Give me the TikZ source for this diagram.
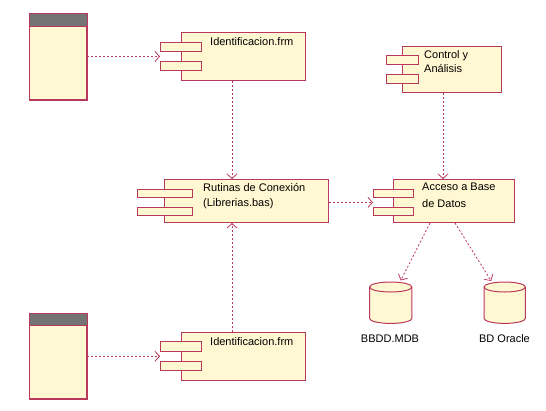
\documentclass[tikz,border=0pt]{standalone}
\usepackage{fontspec}
\setmainfont{Liberation Sans}
\usetikzlibrary{arrows.meta,calc}
\definecolor{umlborder}{HTML}{B8395C}
\definecolor{umlfill}{HTML}{FFF8D2}
\definecolor{umlhead}{HTML}{747474}
\tikzset{
  body/.style={draw=umlborder,fill=umlfill,line width=1pt,inner sep=0pt,anchor=north west},
  tab/.style={draw=umlborder,fill=umlfill,line width=1pt,inner sep=0pt,anchor=north west},
  lbl/.style={inner sep=0pt,anchor=west,font=\fontsize{11}{13}\selectfont},
  dep/.style={draw=umlborder,line width=0.8pt,dash pattern=on 2pt off 2pt,
    -{Straight Barb[length=4.5pt,width=10pt,line width=0.8pt]}},
  cyl/.style={draw=umlborder,fill=umlfill,line width=1pt}
}
\begin{document}
\begin{tikzpicture}[x=1pt,y=-1pt]
\useasboundingbox (0,0) rectangle (546,410);
% forms
\node[body,minimum width=57pt,minimum height=86pt] (f1) at (29,13) {};
\fill[umlhead] ($(f1.north west)+(0.5,0.5)$) rectangle ($(f1.north east)+(-0.5,13)$);
\draw[umlborder,line width=1pt] ($(f1.north west)+(0,13)$) -- ($(f1.north east)+(0,13)$);
\draw[umlborder,line width=1pt] (f1.north west) rectangle (f1.south east);
\node[body,minimum width=57pt,minimum height=85pt] (f2) at (29,313) {};
\fill[umlhead] ($(f2.north west)+(0.5,0.5)$) rectangle ($(f2.north east)+(-0.5,12.5)$);
\draw[umlborder,line width=1pt] ($(f2.north west)+(0,12.5)$) -- ($(f2.north east)+(0,12.5)$);
\draw[umlborder,line width=1pt] (f2.north west) rectangle (f2.south east);
% Identificacion 1
\node[body,minimum width=124pt,minimum height=48pt] (i1) at (181,32) {};
\node[tab,minimum width=41pt,minimum height=9pt] (i1a) at (160,42) {};
\node[tab,minimum width=41pt,minimum height=9pt] (i1b) at (160,61) {};
\node[lbl] (i1t) at (210,41.5) {Identificacion.frm};
% Identificacion 2
\node[body,minimum width=124pt,minimum height=48pt] (i2) at (181,332) {};
\node[tab,minimum width=41pt,minimum height=9.5pt] (i2a) at (160,341) {};
\node[tab,minimum width=41pt,minimum height=9pt] (i2b) at (160,361) {};
\node[lbl] (i2t) at (210,342) {Identificacion.frm};
% Control
\node[body,minimum width=99pt,minimum height=46pt] (c) at (402,46) {};
\node[tab,minimum width=32pt,minimum height=8.7pt] (ca) at (386,55.3) {};
\node[tab,minimum width=32pt,minimum height=8.7pt] (cb) at (386,74) {};
\node[lbl] (ct1) at (424,55.5) {Control y};
\node[lbl] (ct2) at (424,68.5) {Análisis};
% Rutinas
\node[body,minimum width=164pt,minimum height=43pt] (r) at (164,179) {};
\node[tab,minimum width=55pt,minimum height=7.5pt] (ra) at (137,189.3) {};
\node[tab,minimum width=55pt,minimum height=7.5pt] (rb) at (137,207) {};
\node[lbl] (rt1) at (203,187) {Rutinas de Conexión};
\node[lbl] (rt2) at (203,203.5) {(Librerias.bas)};
% Acceso
\node[body,minimum width=121pt,minimum height=43pt] (a) at (393,179) {};
\node[tab,minimum width=40pt,minimum height=7.5pt] (aa) at (373,189.3) {};
\node[tab,minimum width=40pt,minimum height=7.5pt] (ab) at (373,207) {};
\node[lbl] (at1) at (422,187) {Acceso a Base};
\node[lbl] (at2) at (422,203.5) {de Datos};
% databases
\node[inner sep=0pt,minimum width=42pt,minimum height=41pt,anchor=north west] (d1) at (369.5,282) {};
\node[inner sep=0pt,minimum width=41pt,minimum height=41pt,anchor=north west] (d2) at (484,282) {};
\foreach \d in {d1,d2}{
  \draw[cyl] let \p1=(\d.north west), \p2=(\d.south east), \n1={(\x2-\x1)/2} in
    (\x1,\y1-5pt) -- (\x1,\y2+5pt) arc[start angle=180,end angle=360,x radius=\n1,y radius=5pt]
    -- (\x2,\y1-5pt) arc[start angle=0,end angle=180,x radius=\n1,y radius=5pt] -- cycle;
  \draw[cyl,fill=none] let \p1=(\d.north west), \p2=(\d.south east), \n1={(\x2-\x1)/2} in
    (\x1,\y1-5pt) arc[start angle=180,end angle=360,x radius=\n1,y radius=5pt];
}
\node[lbl,anchor=center] (d1t) at (390,339) {BBDD.MDB};
\node[lbl,anchor=center] (d2t) at (504.5,339) {BD Oracle};
% connectors
\coordinate (e1) at ($(i1a.south west)!0.5!(i1b.north west)$);
\coordinate (e2) at ($(i2a.south west)!0.5!(i2b.north west)$);
\coordinate (e3) at ($(aa.south west)!0.5!(ab.north west)$);
\draw[dep] (f1.east |- e1) -- (e1);
\draw[dep] (f2.east |- e2) -- (e2);
\draw[dep] (i1.south -| 232,0) -- (r.north -| 232,0);
\draw[dep] (i2.north -| 232,0) -- (r.south -| 232,0);
\draw[dep] (c.south -| 443,0) -- (a.north -| 443,0);
\draw[dep] (r.east |- e3) -- (e3);
\draw[dep] (a.south -| 430,0) -- ($(d1.north)+(10,-1.5)$);
\draw[dep] (a.south -| 455,0) -- ($(d2.north)+(-13.5,-1)$);
\end{tikzpicture}
\end{document}
